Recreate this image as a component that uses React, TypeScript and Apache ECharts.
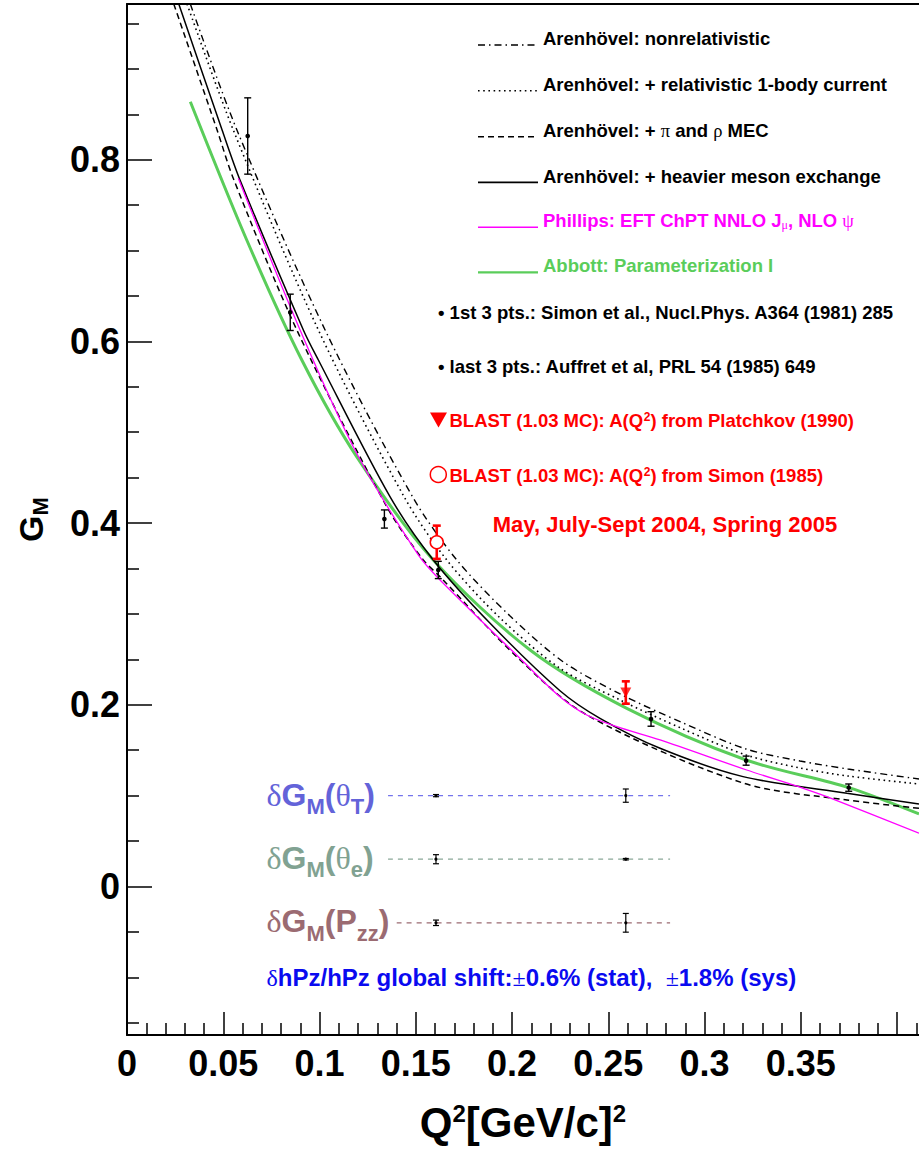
import React, { useEffect, useRef } from 'react';
import * as echarts from 'echarts';

// ---------- axes ----------
const X_MIN = 0;
const X_MAX = 0.4114;
const Y_MIN = -0.1635;
const Y_MAX = 0.9714;
const xTickLabels = [0, 0.05, 0.1, 0.15, 0.2, 0.25, 0.3, 0.35];
const xMajorTicks = [0, 0.05, 0.1, 0.15, 0.2, 0.25, 0.3, 0.35, 0.4];
const xMinorTicks = [0.01, 0.02, 0.03, 0.04, 0.06, 0.07, 0.08, 0.09, 0.11, 0.12, 0.13, 0.14, 0.16, 0.17, 0.18, 0.19,
  0.21, 0.22, 0.23, 0.24, 0.26, 0.27, 0.28, 0.29, 0.31, 0.32, 0.33, 0.34, 0.36, 0.37, 0.38, 0.39, 0.41];
const yTickLabels = [0, 0.2, 0.4, 0.6, 0.8];
const yMinorTicks = [-0.15, -0.1, -0.05, 0.05, 0.1, 0.15, 0.25, 0.3, 0.35, 0.45, 0.5, 0.55, 0.65, 0.7, 0.75, 0.85, 0.9, 0.95];

// ---------- theory curves [Q2, GM] ----------
const arenNonrel: [number, number][] = [
  [0.0329, 0.9714], [0.0571, 0.8327], [0.1029, 0.6126], [0.1483, 0.4291], [0.1713, 0.3594],
  [0.199, 0.2977], [0.2265, 0.2474], [0.2561, 0.2119], [0.2888, 0.18], [0.3216, 0.1513],
  [0.3496, 0.1381], [0.3745, 0.1293], [0.4114, 0.1183],
];
const arenRel: [number, number][] = [
  [0.0312, 0.9714], [0.0552, 0.8327], [0.0994, 0.6126], [0.1439, 0.4291], [0.1661, 0.3594],
  [0.1938, 0.2955], [0.2249, 0.2402], [0.2561, 0.2053], [0.2888, 0.1734], [0.3216, 0.1447],
  [0.3496, 0.1304], [0.3745, 0.1216], [0.4114, 0.1128],
];
const arenMEC: [number, number][] = [
  [0.0243, 0.9714], [0.0468, 0.8327], [0.0552, 0.7795], [0.0882, 0.6126], [0.1349, 0.4181],
  [0.1539, 0.3594], [0.1626, 0.341], [0.2024, 0.2529], [0.2388, 0.1888], [0.32, 0.1139],
  [0.374, 0.0952], [0.4114, 0.0861],
];
const arenHeavy: [number, number][] = [
  [0.0269, 0.9714], [0.0494, 0.8327], [0.0587, 0.7777], [0.0916, 0.6126], [0.0994, 0.5795],
  [0.1366, 0.4291], [0.1591, 0.3594], [0.1886, 0.2897], [0.2249, 0.2155], [0.2457, 0.1851],
  [0.2769, 0.1521], [0.32, 0.1209], [0.374, 0.1026], [0.4114, 0.0908],
];
const phillips: [number, number][] = [
  [0.0578, 0.7795], [0.0899, 0.6126], [0.1193, 0.4768], [0.1513, 0.3649], [0.1626, 0.3374],
  [0.2059, 0.2474], [0.2249, 0.2089], [0.2388, 0.1888], [0.2544, 0.1759], [0.2769, 0.1613],
  [0.3219, 0.1282], [0.3513, 0.1081], [0.3635, 0.0988], [0.4114, 0.0586],
];
const abbott: [number, number][] = [
  [0.0329, 0.8638], [0.0622, 0.7116], [0.0908, 0.5795], [0.1193, 0.4731], [0.1591, 0.3594],
  [0.2094, 0.2603], [0.2596, 0.1961], [0.3216, 0.1392], [0.3749, 0.1088], [0.4114, 0.0798],
];

// ---------- data points [Q2, GM, error] ----------
const worldData: [number, number, number][] = [
  [0.0627, 0.8261, 0.042], [0.0848, 0.632, 0.02], [0.1337, 0.4045, 0.01], [0.1617, 0.3484, 0.0095],
  [0.2722, 0.1844, 0.008], [0.3216, 0.1385, 0.005], [0.3749, 0.1088, 0.004],
];
const blastSimon: [number, number, number][] = [[0.1609, 0.3789, 0.0183]];
const blastPlatchkov: [number, number, number][] = [[0.2591, 0.2135, 0.0123]];

// ---------- systematic rows ----------
const dThetaT: [number, number, number][] = [[0.1605, 0.1, 0.0012], [0.2591, 0.1, 0.0073]];
const dThetaE: [number, number, number][] = [[0.1605, 0.03, 0.005], [0.2591, 0.03, 0.0008]];
const dPzz: [number, number, number][] = [[0.1605, -0.04, 0.003], [0.2591, -0.04, 0.0103]];
const lineThetaT: [number, number][] = [[0.1356, 0.1], [0.2821, 0.1]];
const lineThetaE: [number, number][] = [[0.1356, 0.03], [0.2821, 0.03]];
const linePzz: [number, number][] = [[0.1401, -0.04], [0.2821, -0.04]];

const FONT = "'Liberation Sans', Arial, Helvetica, sans-serif";
const SERIF = "'Liberation Serif', 'Times New Roman', serif";

const RED = '#ff0000';
const MAGENTA = '#ff00ff';
const GREEN = '#5acd5a';

function curve(name: string, data: [number, number][], color: string, width: number, type: any, z = 2) {
  return {
    type: 'line', name, data, symbol: 'none', showSymbol: false, smooth: 0.3, clip: true, z,
    lineStyle: { color, width, type },
  };
}

function errSeries(name: string, data: [number, number, number][], color: string, lw: number, cap: number, dotR: number, z = 5) {
  return {
    type: 'custom', name, data, z, encode: { x: 0, y: 1 },
    renderItem: (_p: any, api: any) => {
      const x = api.value(0), y = api.value(1), e = api.value(2);
      const c = api.coord([x, y]);
      const t = api.coord([x, y + e]);
      const b = api.coord([x, y - e]);
      const st = { stroke: color, lineWidth: lw };
      const children: any[] = [
        { type: 'line', shape: { x1: c[0], y1: t[1], x2: c[0], y2: b[1] }, style: st },
        { type: 'line', shape: { x1: c[0] - cap, y1: t[1], x2: c[0] + cap, y2: t[1] }, style: st },
        { type: 'line', shape: { x1: c[0] - cap, y1: b[1], x2: c[0] + cap, y2: b[1] }, style: st },
      ];
      if (dotR > 0) children.push({ type: 'circle', shape: { cx: c[0], cy: c[1], r: dotR }, style: { fill: color } });
      return { type: 'group', children };
    },
  };
}

function tok(fs: number, extra: any = {}) {
  return { fontSize: fs, fontWeight: 'bold', fontFamily: FONT, verticalAlign: 'top', ...extra };
}

function textEl(x: number, baseline: number, fs: number, text: string, fill: string, rich: any = undefined, align = 'left') {
  const style: any = { text, fill, fontSize: fs, fontWeight: 'bold', fontFamily: FONT, align, verticalAlign: 'top' };
  if (rich) style.rich = rich;
  return { type: 'text', x, y: baseline - 0.8465 * fs, style, z: 100 };
}

function legendLine(y: number, color: string, width: number, dash: any) {
  return { type: 'line', shape: { x1: 478, y1: y, x2: 538, y2: y }, style: { stroke: color, lineWidth: width, lineDash: dash }, z: 100 };
}

export default function App() {
  const ref = useRef<HTMLDivElement>(null);
  useEffect(() => {
    if (!ref.current) return;
    const chart = echarts.init(ref.current, null, { renderer: 'svg' });
    const LFS = 18.5;
    const legRich = (fill: string) => ({
      a: tok(LFS, { fill }),
      g: { fontSize: LFS, fontWeight: 'normal', fontFamily: SERIF, verticalAlign: 'top', fill },
      sub: { fontSize: 12, fontWeight: 'normal', fontFamily: SERIF, verticalAlign: 'top', fill, padding: [8, 0, 0, 0] },
      sup: tok(12, { fill }),
    });
    const dRich = (fill: string) => ({
      d: { fontSize: 32, fontWeight: 'normal', fontFamily: SERIF, verticalAlign: 'top', fill },
      g: tok(32, { fill }),
      s: tok(22, { fill, padding: [17, 0, 0, 0] }),
    });
    const shiftRich = {
      d: { fontSize: 24, fontWeight: 'normal', fontFamily: SERIF, verticalAlign: 'top', fill: '#0a0af0' },
      a: tok(24, { fill: '#0a0af0' }),
    };

    const option: any = {
      animation: false,
      backgroundColor: '#ffffff',
      grid: { left: 127, top: 4, right: 0, bottom: 128, containLabel: false },
      xAxis: [
        {
          type: 'value', min: X_MIN, max: X_MAX, position: 'bottom',
          axisLine: { show: true, onZero: false, lineStyle: { color: '#000', width: 2 } },
          axisTick: { show: true, inside: true, length: 23, customValues: xMajorTicks, lineStyle: { color: '#000', width: 1.5 } },
          axisLabel: {
            customValues: xTickLabels, margin: 10, color: '#000', fontSize: 36, fontWeight: 'bold', fontFamily: FONT,
            formatter: (v: number) => String(parseFloat(Number(v).toFixed(2))),
          },
          splitLine: { show: false },
          name: '{m|Q}{s|2}{m|[GeV/c]}{s|2}',
          nameLocation: 'middle', nameGap: 66,
          nameTextStyle: {
            rich: {
              m: { fontSize: 42, fontWeight: 'bold', fontFamily: FONT, color: '#000', verticalAlign: 'top' },
              s: { fontSize: 24, fontWeight: 'bold', fontFamily: FONT, color: '#000', verticalAlign: 'top' },
            },
          },
        },
        {
          type: 'value', min: X_MIN, max: X_MAX, position: 'bottom',
          axisLine: { show: false, onZero: false },
          axisTick: { show: true, inside: true, length: 12, customValues: xMinorTicks, lineStyle: { color: '#000', width: 1.5 } },
          axisLabel: { show: false }, splitLine: { show: false },
        },
        {
          type: 'value', min: X_MIN, max: X_MAX, position: 'top',
          axisLine: { show: true, onZero: false, lineStyle: { color: '#000', width: 2 } },
          axisTick: { show: false }, axisLabel: { show: false }, splitLine: { show: false },
        },
      ],
      yAxis: [
        {
          type: 'value', min: Y_MIN, max: Y_MAX, position: 'left',
          axisLine: { show: true, onZero: false, lineStyle: { color: '#000', width: 2 } },
          axisTick: { show: true, inside: true, length: 25, customValues: yTickLabels, lineStyle: { color: '#000', width: 1.5 } },
          axisLabel: {
            customValues: yTickLabels, margin: 7, color: '#000', fontSize: 36, fontWeight: 'bold', fontFamily: FONT,
            formatter: (v: number) => String(parseFloat(Number(v).toFixed(2))),
          },
          splitLine: { show: false },
          name: '{g|G}{s|M}', nameLocation: 'middle', nameRotate: 90, nameGap: 76,
          nameTextStyle: {
            rich: {
              g: { fontSize: 34, fontWeight: 'bold', fontFamily: FONT, color: '#000', verticalAlign: 'top' },
              s: { fontSize: 22, fontWeight: 'bold', fontFamily: FONT, color: '#000', verticalAlign: 'top', padding: [15, 0, 0, 0] },
            },
          },
        },
        {
          type: 'value', min: Y_MIN, max: Y_MAX, position: 'left',
          axisLine: { show: false, onZero: false },
          axisTick: { show: true, inside: true, length: 12, customValues: yMinorTicks, lineStyle: { color: '#000', width: 1.5 } },
          axisLabel: { show: false }, splitLine: { show: false },
        },
      ],
      series: [
        curve('Arenhövel: nonrelativistic', arenNonrel, '#000', 1.4, [7, 4, 1.5, 4]),
        curve('Arenhövel: + relativistic 1-body current', arenRel, '#000', 1.6, [1.6, 3.6]),
        curve('Arenhövel: + π and ρ MEC', arenMEC, '#000', 1.5, [6, 4]),
        curve('Arenhövel: + heavier meson exchange', arenHeavy, '#000', 1.5, 'solid'),
        curve('Phillips', phillips, MAGENTA, 1.3, 'solid', 3),
        curve('Abbott', abbott, GREEN, 3, 'solid', 1),
        curve('θT line', lineThetaT, '#7474ec', 1.3, [5, 5]),
        curve('θe line', lineThetaE, '#8aa898', 1.3, [5, 5]),
        curve('Pzz line', linePzz, '#9b6b72', 1.3, [5, 5]),
        errSeries('Simon/Auffret', worldData, '#000', 1.4, 3.5, 2.3),
        errSeries('BLAST Simon err', blastSimon, RED, 2.6, 4, 0, 6),
        errSeries('BLAST Platchkov err', blastPlatchkov, RED, 2.6, 4, 0, 6),
        {
          type: 'scatter', name: 'BLAST (Simon)', data: blastSimon.map((d) => [d[0], d[1]]), z: 7,
          symbol: 'circle', symbolSize: 13,
          itemStyle: { color: '#ffffff', borderColor: RED, borderWidth: 1.5, opacity: 1 },
        },
        {
          type: 'scatter', name: 'BLAST (Platchkov)', data: blastPlatchkov.map((d) => [d[0], d[1]]), z: 7,
          symbol: 'triangle', symbolRotate: 180, symbolSize: [11, 10],
          itemStyle: { color: RED },
        },
        errSeries('dGM thetaT', dThetaT, '#000', 1.2, 3, 1.6),
        errSeries('dGM thetae', dThetaE, '#000', 1.2, 3, 1.6),
        errSeries('dGM Pzz', dPzz, '#000', 1.2, 3, 1.6),
      ],
      graphic: [
        legendLine(45, '#000', 1.4, [7, 4, 1.5, 4]),
        legendLine(90.7, '#000', 1.5, [1.6, 3.6]),
        legendLine(136.7, '#000', 1.5, [6, 4]),
        legendLine(182.3, '#000', 1.8, null),
        legendLine(227.3, MAGENTA, 1.5, null),
        legendLine(272.3, GREEN, 2.2, null),
        textEl(543, 45, LFS, 'Arenhövel: nonrelativistic', '#000'),
        textEl(543, 90.7, LFS, 'Arenhövel: + relativistic 1-body current', '#000'),
        textEl(543, 136.7, LFS, '{a|Arenhövel: + }{g|π}{a| and }{g|ρ}{a| MEC}', '#000', legRich('#000')),
        textEl(543, 182.3, LFS, 'Arenhövel: + heavier meson exchange', '#000'),
        textEl(543, 227, LFS, '{a|Phillips: EFT ChPT NNLO J}{sub|μ}{a|, NLO }{g|ψ}', MAGENTA, legRich(MAGENTA)),
        textEl(543, 272, LFS, 'Abbott: Parameterization I', GREEN),
        textEl(438, 318.3, LFS, '• 1st 3 pts.: Simon et al., Nucl.Phys. A364 (1981) 285', '#000'),
        textEl(438, 372.3, LFS, '• last 3 pts.: Auffret et al, PRL 54 (1985) 649', '#000'),
        { type: 'polygon', shape: { points: [[430, 412.5], [447, 412.5], [438.5, 427.5]] }, style: { fill: RED }, z: 100 },
        textEl(449.5, 426.7, LFS, '{a|BLAST (1.03 MC): A(Q}{sup|2}{a|) from Platchkov (1990)}', RED, legRich(RED)),
        { type: 'circle', shape: { cx: 438.3, cy: 474.5, r: 8 }, style: { fill: 'none', stroke: RED, lineWidth: 1.5 }, z: 100 },
        textEl(449.5, 481.7, LFS, '{a|BLAST (1.03 MC): A(Q}{sup|2}{a|) from Simon (1985)}', RED, legRich(RED)),
        textEl(665, 531.7, 22, 'May, July-Sept 2004, Spring 2005', RED, undefined, 'center'),
        textEl(266.5, 806, 32, '{d|δ}{g|G}{s|M}{g|(}{d|θ}{s|T}{g|)}', '#6363d9', dRich('#6363d9')),
        textEl(266.5, 869, 32, '{d|δ}{g|G}{s|M}{g|(}{d|θ}{s|e}{g|)}', '#81a292', dRich('#81a292')),
        textEl(266.5, 932.5, 32, '{d|δ}{g|G}{s|M}{g|(P}{s|zz}{g|)}', '#9b6b72', dRich('#9b6b72')),
        textEl(266.5, 986, 24, '{d|δ}{a|hPz/hPz global shift:}{d|±}{a|0.6% (stat),  }{d|±}{a|1.8% (sys)}', '#0a0af0', shiftRich),
      ],
    };
    chart.setOption(option);
    return () => chart.dispose();
  }, []);
  return <div ref={ref} style={{ position: 'absolute', left: 0, top: 0, width: 919, height: 1163 }} />;
}
